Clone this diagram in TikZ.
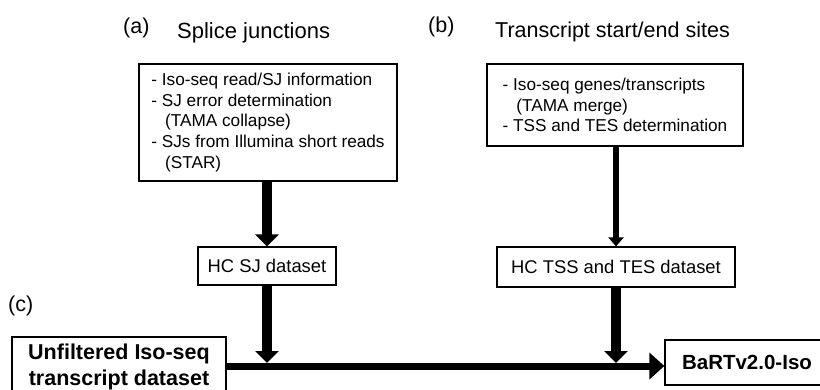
\documentclass[tikz,border=0pt]{standalone}
\usepackage{fontspec}
\setmainfont{Liberation Sans}
\usetikzlibrary{arrows.meta}
\tikzset{
  box/.style={draw=black, line width=1.2pt, fill=white, inner ysep=0pt},
  listtxt/.style={font=\fontsize{17.2}{20.8}\selectfont, align=left},
  hctxt/.style={font=\fontsize{18.4}{22}\selectfont},
  bigtxt/.style={font=\fontsize{21.5}{26}\selectfont\bfseries, align=center},
  title/.style={font=\fontsize{21.5}{26}\selectfont, anchor=base west, inner sep=0pt},
  thickarrow/.style={line width=10pt, -{Triangle[length=12pt,width=23pt]}},
  thinarrow/.style={line width=5.5pt, -{Triangle[length=9pt,width=15pt]}},
  mainarrow/.style={line width=7pt, -{Triangle[length=15pt,width=26pt]}}
}
\begin{document}
\begin{tikzpicture}[x=1pt,y=-1pt]
\useasboundingbox (0,0) rectangle (820,389);
\clip (0,0) rectangle (820,389);
% titles
\node[title] (la) at (123,33) {(a)};
\node[title, font=\fontsize{22}{26}\selectfont] (ta) at (177,38) {Splice junctions};
\node[title] (lb) at (428,32) {(b)};
\node[title] (tb) at (495,37) {Transcript start/end sites};
\node[title] (lc) at (8,311) {(c)};
% boxes
\node[box, listtxt, minimum width=258pt, minimum height=117pt] (boxA) at (268,122.5)
 {- Iso-seq read/SJ information\\
  - SJ error determination\\
  \hspace*{0.8em}(TAMA collapse)\\
  - SJs from Illumina short reads\\
  \hspace*{0.8em}(STAR)};
\node[box, listtxt, minimum width=256pt, minimum height=82pt] (boxB) at (615,105)
 {- Iso-seq genes/transcripts\\
  \hspace*{0.8em}(TAMA merge)\\
  - TSS and TES determination};
\node[box, hctxt, minimum width=138pt, minimum height=38pt] (hcsj) at (267,266) {HC SJ dataset};
\node[box, hctxt, minimum width=238pt, minimum height=40pt] (hctss) at (616,267) {HC TSS and TES dataset};
\node[box, bigtxt, minimum width=214pt, minimum height=60pt, inner xsep=0pt] (unf) at (119,367)
 {Unfiltered Iso-seq\\transcript dataset};
\node[box, bigtxt, font=\fontsize{20.5}{24}\selectfont\bfseries, minimum width=164pt, minimum height=45pt] (bart) at (747,362.5) {BaRTv2.0-Iso};
% connectors
\draw[thickarrow] (hcsj.north |- boxA.south) -- (hcsj.north);
\draw[thinarrow] (hctss.north |- boxB.south) -- (hctss.north);
\coordinate (j1) at (hcsj.south |- 0,366);
\coordinate (j2) at (hctss.south |- 0,366);
\draw[mainarrow] (unf.east |- 0,366) -- (bart.west |- 0,366);
\draw[thickarrow, shorten >=3pt] (hcsj.south) -- (j1);
\draw[thickarrow, shorten >=3pt] (hctss.south) -- (j2);
\end{tikzpicture}
\end{document}
